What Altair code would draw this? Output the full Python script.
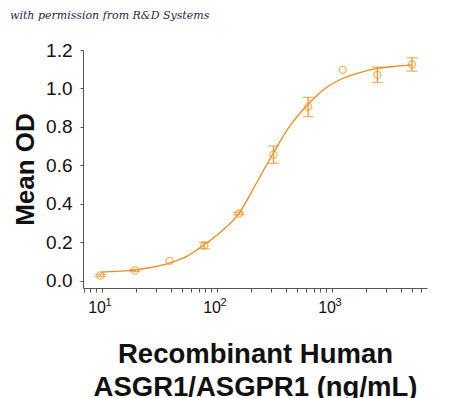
import altair as alt
import pandas as pd

# measured points
conc = [9.77, 19.53, 39.06, 78.13, 156.25, 312.5, 625, 1250, 2500, 5000]
mean_od = [0.028, 0.054, 0.104, 0.184, 0.350, 0.656, 0.904, 1.097, 1.071, 1.125]
err = [0.006, 0.005, 0.0, 0.017, 0.006, 0.045, 0.050, 0.0, 0.040, 0.035]

# fitted curve
curve_x = [9.77, 19.5, 39, 55, 78, 110, 156, 223, 312.5, 434, 625, 903, 1250, 1762, 2500, 3672, 5000]
curve_y = [0.045, 0.057, 0.092, 0.127, 0.188, 0.257, 0.35, 0.51, 0.666, 0.805, 0.918, 1.005, 1.052, 1.083, 1.104, 1.116, 1.123]

x_ticks = [7, 8, 9, 10, 20, 30, 40, 50, 60, 70, 80, 90, 100, 200, 300, 400, 500, 600, 700, 800, 900,
           1000, 2000, 3000, 4000, 5000, 6000]
decades = [10, 100, 1000]
exponents = ["1", "2", "3"]
y_ticks = [0.0, 0.2, 0.4, 0.6, 0.8, 1.0, 1.2]
watermark = ["with permission from R&D Systems"]

pts = pd.DataFrame({"conc": conc, "od": mean_od, "err": err})
pts["lo"] = pts["od"] - pts["err"]
pts["hi"] = pts["od"] + pts["err"]
bars = pts[pts["err"] > 0]
curve = pd.DataFrame({"conc": curve_x, "od": curve_y})
sup = pd.DataFrame({"conc": decades, "e": exponents})

LINE = "#EC8C1C"
PT = "#F0962C"

xscale = alt.Scale(type="log", domain=[6.9, 6750], nice=False)
yscale = alt.Scale(domain=[-0.037, 1.2], nice=False, zero=False)

xaxis = alt.Axis(
    values=x_ticks,
    labelExpr="datum.value == 10 || datum.value == 100 || datum.value == 1000 ? '10' : ''",
    labelFont="Liberation Sans", labelFontSize=16, labelColor="#111",
    labelPadding=7, labelOffset=-5, tickSize=4, tickColor="#555", domainColor="#555",
    grid=False, labelOverlap=False, labelFlush=False,
    title=["Recombinant Human", "ASGR1/ASGPR1 (ng/mL)"],
    titleFont="Liberation Sans", titleFontSize=27.5, titleFontWeight="bold",
    titleColor="#111", titleLineHeight=33.5, titleBaseline="top",
    titleY=52, titleX=172, titleAlign="center",
)
yaxis = alt.Axis(
    values=y_ticks, format=".1f",
    labelFont="Liberation Sans", labelFontSize=19, labelColor="#111",
    labelPadding=8, tickSize=3, tickColor="#555", domainColor="#555",
    grid=False, labelOverlap=False,
    title="Mean OD", titleFont="Liberation Sans", titleFontSize=26,
    titleFontWeight="bold", titleColor="#111", titleAngle=270,
    titleBaseline="alphabetic", titleX=-50, titleY=119, titleAlign="center",
)

X = alt.X("conc:Q", scale=xscale, axis=xaxis)

line = alt.Chart(curve).mark_line(color=LINE, strokeWidth=1.3, interpolate="monotone").encode(
    x=X,
    y=alt.Y("od:Q", scale=yscale, axis=yaxis),
)

rules = alt.Chart(bars).mark_rule(color=PT, strokeWidth=1.3).encode(
    x=X,
    y=alt.Y("lo:Q", scale=yscale, axis=yaxis),
    y2="hi:Q",
)
cap_lo = alt.Chart(bars).mark_tick(color=PT, orient="horizontal", size=11, thickness=1.3).encode(
    x=X,
    y=alt.Y("lo:Q", scale=yscale, axis=yaxis),
)
cap_hi = alt.Chart(bars).mark_tick(color=PT, orient="horizontal", size=11, thickness=1.3).encode(
    x=X,
    y=alt.Y("hi:Q", scale=yscale, axis=yaxis),
)
points = alt.Chart(pts).mark_point(shape="circle", size=50, color=PT, strokeWidth=1.3, filled=False).encode(
    x=X,
    y=alt.Y("od:Q", scale=yscale, axis=yaxis),
)
sups = alt.Chart(sup).mark_text(
    font="Liberation Sans", fontSize=11, color="#111", align="left", baseline="alphabetic", dx=4,
).encode(
    x=X,
    y=alt.value(256),
    text="e:N",
)
wm = alt.Chart(pd.DataFrame({"t": watermark})).mark_text(
    font="DejaVu Serif", fontStyle="italic", fontSize=11, color="#1c2b4a",
    align="left", baseline="alphabetic",
).encode(x=alt.value(-73), y=alt.value(-31), text="t:N")

chart = alt.layer(line, rules, cap_lo, cap_hi, points, sups, wm).properties(
    width=344, height=238,
    autosize=alt.AutoSizeParams(type="none"),
    padding={"left": 75, "top": 42, "right": 10, "bottom": 110},
).configure_view(stroke=None, clip=False).configure_axis(
    domainWidth=1, tickWidth=1
).configure_axisY(labelOverlap=False)

chart.save("out.html", embed_options={"renderer": "svg", "actions": False})
